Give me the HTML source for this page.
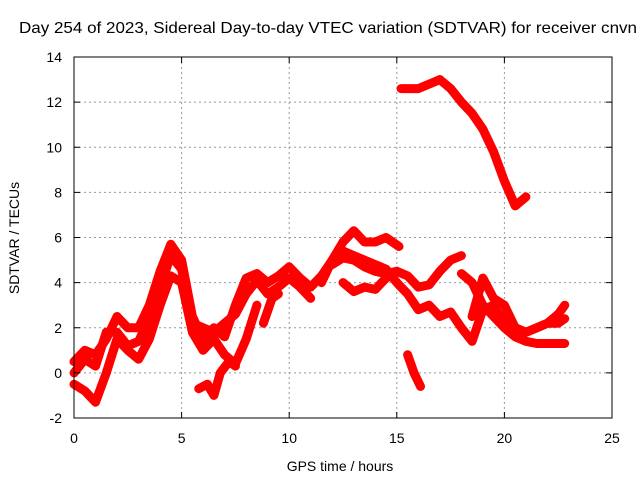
<!DOCTYPE html>
<html><head><meta charset="utf-8"><style>
body{margin:0;background:#fff;width:640px;height:480px;overflow:hidden}
svg{display:block;font-family:"Liberation Sans",sans-serif}
</style></head><body>
<svg id="c" width="640" height="480">
<text x="19" y="33" font-size="16" textLength="618" lengthAdjust="spacingAndGlyphs" fill="#000">Day 254 of 2023, Sidereal Day-to-day VTEC variation (SDTVAR) for receiver cnvn</text>
<g id="grid"></g>
<g id="series"></g>
<rect x="74" y="57" width="538" height="361" fill="none" stroke="#000" stroke-width="1"/>
<g id="axes"></g>
<text x="340" y="471" font-size="14" text-anchor="middle">GPS time / hours</text>
<text transform="translate(19,238) rotate(-90)" font-size="14" text-anchor="middle">SDTVAR / TECUs</text>
</svg>
<script>
const xTicks=[0,5,10,15,20,25];
const yTicks=[-2,0,2,4,6,8,10,12,14];
const s1x=[0,0.5,1,1.5,2,2.5,3,3.5,4,4.5,5,5.5,6,6.5,7,7.5,8,8.5,9,9.5,10,10.5,11,11.5,12,12.5,13,13.5,14,14.5,15.1];
const s1y=[0.5,1,0.8,1.5,2.5,2,2,3,4.5,5.7,5,2.5,1.5,2,1.6,3,4.2,4.4,4,4.3,4.7,4.2,3.8,4.3,5,5.8,6.3,5.8,5.8,6,5.6];
const s2x=[0,0.5,1,1.5,2,2.5,3,3.5,4,4.5,5,5.5,6,6.5,7,7.5,8,8.5];
const s2y=[-0.5,-0.8,-1.3,0,1.5,1,0.6,1.5,3,4.3,4,1.8,1,1.5,0.8,0.4,1.5,3];
const s11x=[0,0.5,1,1.5,2,2.5,3,3.5,4,4.5,5,5.5,6,6.5,7,7.5,8,8.5,9,9.5,10,10.5,11];
const s11y=[0,0.6,0.3,1.8,1.8,1.2,1.4,2.4,3.8,5.2,4.6,2.2,2,1.8,2.2,2.6,3.5,4.1,3.5,3.8,4.2,3.8,3.3];
const s3x=[11.5,12,12.5,13,13.5,14,14.5,15,15.5,16,16.5,17,17.5,18,18.5,19,19.5,20,20.5,21,21.5,22,22.5,22.8];
const s3y=[4,5,5.4,5.2,5,4.8,4.6,4,3.5,2.8,3,2.5,2.7,2,1.4,2.8,3,2.2,2,1.8,2,2.2,2.6,3];
const s12x=[12,12.5,13,13.5,14,14.5,15];
const s12y=[4.8,5.1,5,4.7,4.5,4.4,4.5];
const s4x=[12.5,13,13.5,14,14.5,15,15.5,16,16.5,17,17.5,18];
const s4y=[4,3.6,3.8,3.7,4.2,4.5,4.3,3.8,3.9,4.5,5,5.2];
const s5x=[18,18.5,19,19.5,20,20.5,21,21.5,22,22.5,22.8];
const s5y=[4.4,4,3,2.5,2,1.6,1.4,1.3,1.3,1.3,1.3];
const s6x=[18.5,19,19.5,20,20.5,21,21.5,22,22.5,22.8];
const s6y=[2.5,4.2,3.3,3,2,1.8,2,2.2,2.2,2.4];
const s7x=[15.2,15.6,16,16.5,17,17.5,18,18.5,19,19.5,20,20.5,21];
const s7y=[12.6,12.6,12.6,12.8,13,12.6,12,11.5,10.8,9.8,8.5,7.4,7.8];
const s8x=[15.5,15.8,16.1];
const s8y=[0.8,0,-0.6];
const s9x=[5.8,6.2,6.5,6.8,7.2,7.5];
const s9y=[-0.7,-0.5,-1,0,0.5,0.3];
const s10x=[8.8,9.2,9.5];
const s10y=[2.2,3.3,3.5];
const NS='http://www.w3.org/2000/svg';
const X=h=>74+h*538/25, Y=v=>57+(14-v)*361/16;
const grid=document.getElementById('grid'),axes=document.getElementById('axes'),ser=document.getElementById('series');
function mk(t,a,p){const e=document.createElementNS(NS,t);for(const k in a)e.setAttribute(k,a[k]);p.appendChild(e);return e;}
xTicks.forEach(t=>{const x=X(t);
 if(t>0&&t<25){const l=mk('line',{x1:x,x2:x,y1:57,y2:418,stroke:'#999','stroke-dasharray':'2,3'},grid);}
 mk('line',{x1:x,x2:x,y1:418,y2:412,stroke:'#000'},axes);mk('line',{x1:x,x2:x,y1:57,y2:63,stroke:'#000'},axes);
 const tx=mk('text',{x:x,y:443,'font-size':14,'text-anchor':'middle'},axes);tx.textContent=t;
 });
yTicks.forEach(t=>{const y=Y(t);
 if(t>-2&&t<14){const l=mk('line',{x1:74,x2:612,y1:y,y2:y,stroke:'#999','stroke-dasharray':'2,3'},grid);}
 mk('line',{x1:74,x2:80,y1:y,y2:y,stroke:'#000'},axes);mk('line',{x1:612,x2:606,y1:y,y2:y,stroke:'#000'},axes);
 const tx=mk('text',{x:62,y:y+5,'font-size':14,'text-anchor':'end'},axes);tx.textContent=t;
 });
[[s1x,s1y],[s2x,s2y],[s11x,s11y],[s3x,s3y],[s12x,s12y],[s4x,s4y],[s5x,s5y],[s6x,s6y],[s7x,s7y],[s8x,s8y],[s9x,s9y],[s10x,s10y]].forEach(([xs,ys],i)=>{
 const pts=xs.map((h,j)=>X(h).toFixed(1)+','+Y(ys[j]).toFixed(1)).join(' ');
 const p=mk('polyline',{points:pts,fill:'none',stroke:'#ff0000','stroke-width':9,'stroke-linejoin':'round','stroke-linecap':'round'},ser);
 
 
});
</script>
</body></html>
